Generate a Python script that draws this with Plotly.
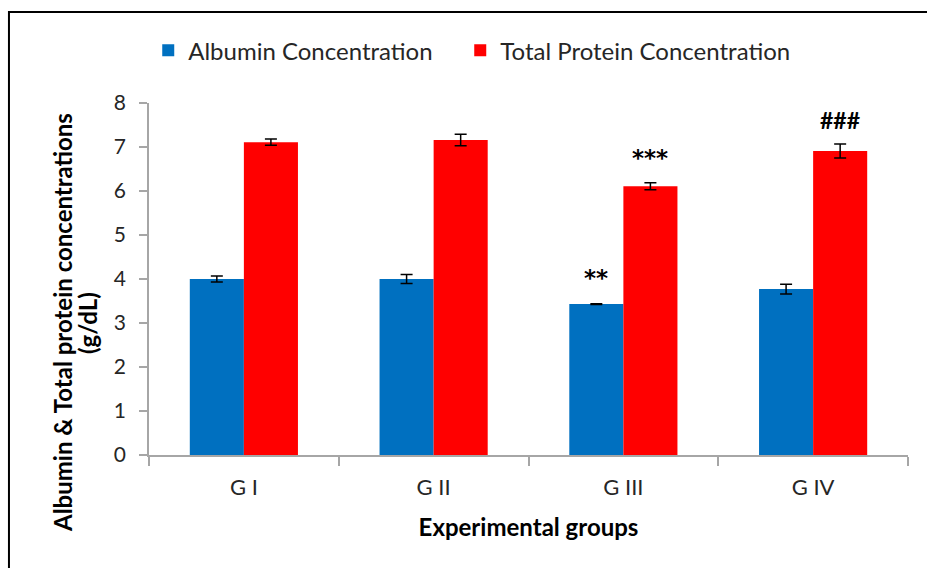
import plotly.graph_objects as go

groups = ["G I", "G II", "G III", "G IV"]
albumin = [4.00, 4.00, 3.43, 3.77]
albumin_err = [0.07, 0.10, 0.01, 0.11]
protein = [7.11, 7.16, 6.11, 6.91]
protein_err = [0.07, 0.13, 0.08, 0.16]
series_names = ["Albumin Concentration", "Total Protein Concentration"]
sig_labels = ["**", "***", "###"]
sig_groups = ["G III", "G III", "G IV"]
sig_series = [0, 1, 1]
sig_y = [4.09, 6.82, 7.59]
y_title_lines = ["Albumin & Total protein concentrations", "(g/dL)"]
x_title = "Experimental groups"

BLUE = "#0070C0"
RED = "#FF0000"
FONT = "Lato, 'Open Sans', sans-serif"

fig = go.Figure()
fig.add_trace(go.Bar(
    x=groups, y=albumin, name=series_names[0], marker=dict(color=BLUE, line=dict(width=0)),
    error_y=dict(type="data", array=albumin_err, color="black", thickness=1.5, width=6),
    legendwidth=267,
))
fig.add_trace(go.Bar(
    x=groups, y=protein, name=series_names[1], marker=dict(color=RED, line=dict(width=0)),
    error_y=dict(type="data", array=protein_err, color="black", thickness=1.5, width=6),
))

for lab, g, s, yv in zip(sig_labels, sig_groups, sig_series, sig_y):
    fam = "DejaVu Sans" if "*" in lab else FONT
    fig.add_annotation(
        x=g, y=yv, text=lab, showarrow=False, xref="x", yref="y",
        xshift=-27 if s == 0 else 27, yshift=-3 if "*" in lab else 1,
        font=dict(family=fam, size=23, color="black", weight="bold"),
    )

# y-axis title (two lines, positioned like the original)
for line, xp in zip(y_title_lines, [-0.1146, -0.0817]):
    fig.add_annotation(
        x=xp, y=0.375, xref="paper", yref="paper", text=line, textangle=-90,
        showarrow=False, xanchor="center", yanchor="middle",
        font=dict(family=FONT, size=24, color="black", weight="bold"),
    )

# outer frame
fig.add_shape(type="rect", xref="paper", yref="paper",
              x0=-0.1845, x1=1.2, y0=-0.6, y1=1.2585,
              line=dict(color="black", width=2), fillcolor="rgba(0,0,0,0)", layer="below")

fig.update_layout(
    width=927, height=568,
    margin=dict(l=149, r=19, t=103, b=113, autoexpand=False),
    paper_bgcolor="white", plot_bgcolor="white",
    barmode="group", bargap=0.43, bargroupgap=0,
    font=dict(family=FONT, size=19, color="#262626"),
    showlegend=True,
    legend=dict(orientation="h", x=-0.001, y=1.149, xanchor="left", yanchor="middle",
                font=dict(family=FONT, size=24, color="#262626"),
                bgcolor="rgba(0,0,0,0)", itemwidth=30),
    xaxis=dict(
        showline=True, linecolor="#A6A6A6", linewidth=1.5,
        ticks="outside", tickson="boundaries", ticklen=9, tickcolor="#A6A6A6", tickwidth=1.5,
        tickfont=dict(family=FONT, size=22, color="#262626"), ticklabelstandoff=12,
        title=dict(text=x_title, standoff=20,
                   font=dict(family=FONT, size=24, color="black", weight="bold")),
        showgrid=False, range=[-0.5, 3.5],
    ),
    yaxis=dict(
        range=[0, 8], dtick=1, showline=True, linecolor="#A6A6A6", linewidth=1.5,
        ticks="outside", ticklen=8, tickcolor="#A6A6A6", tickwidth=1.5,
        tickfont=dict(family=FONT, size=21, color="#262626"), ticklabelstandoff=9,
        showgrid=False, zeroline=False,
    ),
)

fig.write_html("out.html")
